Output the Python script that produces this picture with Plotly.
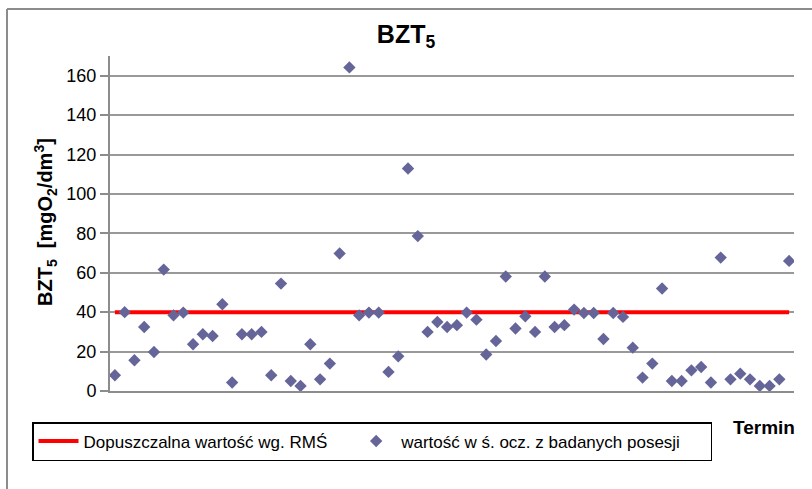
import plotly.graph_objects as go

terms = list(range(1, 71))
values = [8, 40, 15.6, 32.5, 19.8, 61.6, 38.4, 39.8, 23.7, 28.8,
          27.9, 44, 4.3, 28.8, 28.8, 30, 8, 54.5, 5.1, 2.6,
          23.7, 5.9, 13.9, 69.8, 164.2, 38.4, 39.8, 39.8, 9.7, 17.6,
          112.9, 78.6, 30, 35, 32.5, 33.4, 39.8, 36.2, 18.5, 25.4,
          58.1, 31.7, 37.9, 30, 58.1, 32.5, 33.4, 41.3, 39.6, 39.6,
          26.4, 39.6, 37.6, 22, 6.8, 13.9, 52, 5.1, 5.1, 10.5,
          12.2, 4.3, 67.7, 5.9, 8.8, 5.9, 2.6, 2.6, 5.9, 66]
limit_value = 40
y_ticks = [0, 20, 40, 60, 80, 100, 120, 140, 160]
limit_name = "Dopuszczalna wartość wg. RMŚ"
points_name = "wartość w ś. ocz. z badanych posesji"

W, H = 812, 489
L, R, T, B = 110, 18, 56, 98
PW, PH = W - L - R, H - T - B


def px_x(x):
    return (x - L) / PW


def px_y(y):
    return (H - B - y) / PH


fig = go.Figure()
fig.add_trace(go.Scatter(
    x=terms, y=[limit_value] * len(terms), mode="lines",
    line=dict(color="#FF0000", width=4),
    name=limit_name + "\u00a0" * 4))
fig.add_trace(go.Scatter(
    x=terms, y=values, mode="markers",
    marker=dict(symbol="diamond", size=9.5, color="#65659A"),
    name=points_name + "\u00a0" * 5))

fig.update_layout(
    width=W, height=H,
    margin=dict(l=L, r=R, t=T, b=B),
    paper_bgcolor="white", plot_bgcolor="white",
    showlegend=True,
    font=dict(family="Liberation Sans, Arial", color="black"),
    title=dict(text="<b>BZT<sub>5</sub></b>", x=0.5, xanchor="center",
               y=1 - 34 / H, yanchor="middle", yref="container",
               font=dict(size=25)),
    legend=dict(orientation="h", x=px_x(32), xanchor="left",
                y=px_y(422), yanchor="top",
                bordercolor="black", borderwidth=1.5, bgcolor="white",
                font=dict(size=17), itemwidth=40),
    xaxis=dict(range=[0.5, 70.5], showticklabels=False, showgrid=False,
               showline=True, linecolor="#8c8c8c", linewidth=2, zeroline=False,
               ticks=""),
    yaxis=dict(range=[0, 170], tickvals=y_ticks, showgrid=True,
               gridcolor="#999999", gridwidth=1.5, showline=True,
               linecolor="#8c8c8c", linewidth=2, ticks="outside", ticklen=8,
               tickcolor="#8c8c8c", tickwidth=1.5, zeroline=False,
               tickfont=dict(size=18)),
    annotations=[
        dict(text="<b>BZT<sub>5</sub>  [mgO<sub>2</sub>/dm<sup>3</sup>]</b>",
             xref="paper", yref="paper", x=px_x(45), y=px_y(222),
             textangle=-90, showarrow=False, font=dict(size=20),
             xanchor="center", yanchor="middle"),
        dict(text="<b>Termin</b>", xref="paper", yref="paper",
             x=px_x(797), y=px_y(427), xanchor="right",
             yanchor="middle", showarrow=False, font=dict(size=19)),
    ],
    shapes=[
        dict(type="line", xref="paper", yref="paper",
             x0=px_x(7), x1=px_x(815), y0=px_y(9), y1=px_y(9),
             line=dict(color="#8c8c8c", width=2)),
        dict(type="line", xref="paper", yref="paper",
             x0=px_x(7), x1=px_x(7), y0=px_y(9), y1=px_y(495),
             line=dict(color="#8c8c8c", width=2)),
    ],
)

fig.write_html("out.html",
               config={"displayModeBar": False},
               post_script="document.body.style.margin='0';document.body.style.overflow='hidden';")
